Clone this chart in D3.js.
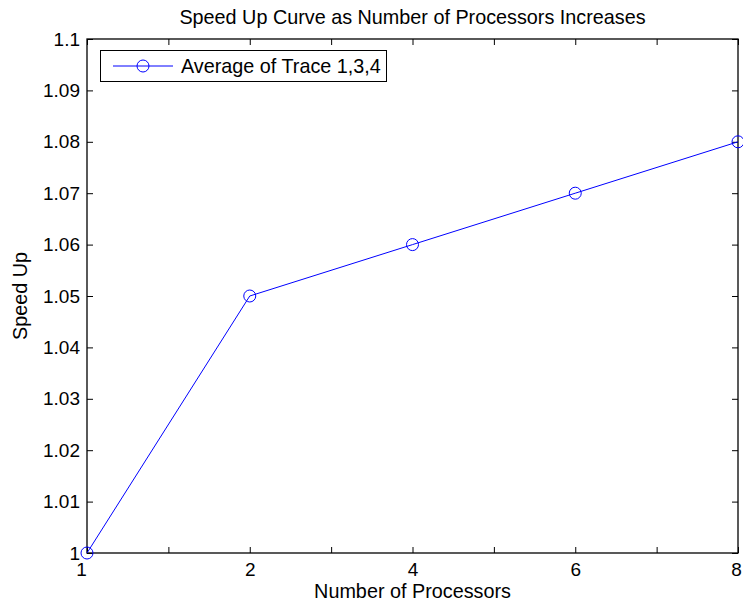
<!DOCTYPE html>
<html>
<head>
<meta charset="utf-8">
<script src="https://cdn.jsdelivr.net/npm/d3@7"></script>
<style>
  html, body { margin: 0; padding: 0; background: #fff; }
  svg { display: block; font-family: "Liberation Sans", Arial, Helvetica, sans-serif; }
</style>
</head>
<body>
<svg id="chart" width="743" height="606"></svg>
<script>
// Processor counts (plotted at evenly spaced positions) and averaged speed-up
const processors = ["1", "2", "4", "6", "8"];
const speedUp = [1.00, 1.05, 1.06, 1.07, 1.08];
const yTicks = [1.00, 1.01, 1.02, 1.03, 1.04, 1.05, 1.06, 1.07, 1.08, 1.09, 1.10];
const seriesName = "Average of Trace 1,3,4";

const svg = d3.select("#chart");
const m = { left: 87, right: 738, top: 39, bottom: 553 };

const x = d3.scaleLinear().domain([1, processors.length]).range([m.left, m.right]);
const y = d3.scaleLinear().domain([1.0, 1.1]).range([m.bottom, m.top]);

// tick positions every half step; only integer positions carry labels
const xTickPos = d3.range(1, processors.length + 0.001, 0.5);
const xLabel = v => Number.isInteger(v) ? processors[v - 1] : "";
const yLabel = v => d3.format(".2~f")(v);

const tickLen = 6;
const fsTick = 19;     // tick labels
const fsLabel = 19.8;  // title, axis labels and legend

// bottom axis
const gx = svg.append("g").attr("transform", `translate(0,${m.bottom})`)
  .call(d3.axisBottom(x).tickValues(xTickPos).tickFormat(xLabel).tickSizeInner(-tickLen).tickSizeOuter(0).tickPadding(10));
// top axis (mirrored ticks)
const gxt = svg.append("g").attr("transform", `translate(0,${m.top})`)
  .call(d3.axisTop(x).tickValues(xTickPos).tickFormat("").tickSizeInner(-tickLen).tickSizeOuter(0));
// left axis
const gy = svg.append("g").attr("transform", `translate(${m.left},0)`)
  .call(d3.axisLeft(y).tickValues(yTicks).tickFormat(yLabel).tickSizeInner(-tickLen).tickSizeOuter(0).tickPadding(7));
// right axis (mirrored ticks)
const gyr = svg.append("g").attr("transform", `translate(${m.right},0)`)
  .call(d3.axisRight(y).tickValues(yTicks).tickFormat("").tickSizeInner(-tickLen).tickSizeOuter(0));

[gx, gxt, gy, gyr].forEach(g => {
  g.attr("font-size", fsTick).attr("font-family", "Liberation Sans, Arial, sans-serif");
  g.select(".domain").remove();
  g.selectAll(".tick line").attr("stroke", "#000").attr("stroke-width", 1);
  g.selectAll(".tick text").attr("fill", "#000").attr("font-size", fsTick);
});
gx.selectAll(".tick text").attr("dy", "0.71em")
  .attr("dx", d => d === 1 ? -6 : (d === processors.length ? -2 : 0));

// axes box
svg.append("rect")
  .attr("x", m.left).attr("y", m.top)
  .attr("width", m.right - m.left).attr("height", m.bottom - m.top)
  .attr("fill", "none").attr("stroke", "#000").attr("stroke-width", 1.3);

// data line and markers
const pts = speedUp.map((v, i) => [i + 1, v]);
svg.append("path")
  .datum(pts)
  .attr("fill", "none").attr("stroke", "#0000ff").attr("stroke-width", 1)
  .attr("d", d3.line().x(d => x(d[0])).y(d => y(d[1])));
svg.selectAll("circle.pt").data(pts).enter().append("circle")
  .attr("class", "pt")
  .attr("cx", d => x(d[0])).attr("cy", d => y(d[1])).attr("r", 6)
  .attr("fill", "none").attr("stroke", "#0000ff").attr("stroke-width", 1);

// legend
const lg = svg.append("g");
lg.append("rect").attr("x", 100.5).attr("y", 50.5).attr("width", 286).attr("height", 31)
  .attr("fill", "#fff").attr("stroke", "#000").attr("stroke-width", 1);
lg.append("line").attr("x1", 113).attr("x2", 173).attr("y1", 66).attr("y2", 66)
  .attr("stroke", "#0000ff").attr("stroke-width", 1);
lg.append("circle").attr("cx", 143).attr("cy", 66).attr("r", 6)
  .attr("fill", "none").attr("stroke", "#0000ff").attr("stroke-width", 1);
lg.append("text").attr("x", 181).attr("y", 72.5).attr("font-size", fsLabel).attr("fill", "#000")
  .text(seriesName);

// title and axis labels
svg.append("text").attr("x", (m.left + m.right) / 2).attr("y", 24)
  .attr("text-anchor", "middle").attr("font-size", fsLabel).text("Speed Up Curve as Number of Processors Increases");
svg.append("text").attr("x", (m.left + m.right) / 2).attr("y", 598)
  .attr("text-anchor", "middle").attr("font-size", fsLabel).text("Number of Processors");
svg.append("text")
  .attr("transform", `translate(27,${(m.top + m.bottom) / 2}) rotate(-90)`)
  .attr("text-anchor", "middle").attr("font-size", fsLabel).text("Speed Up");
</script>
</body>
</html>
